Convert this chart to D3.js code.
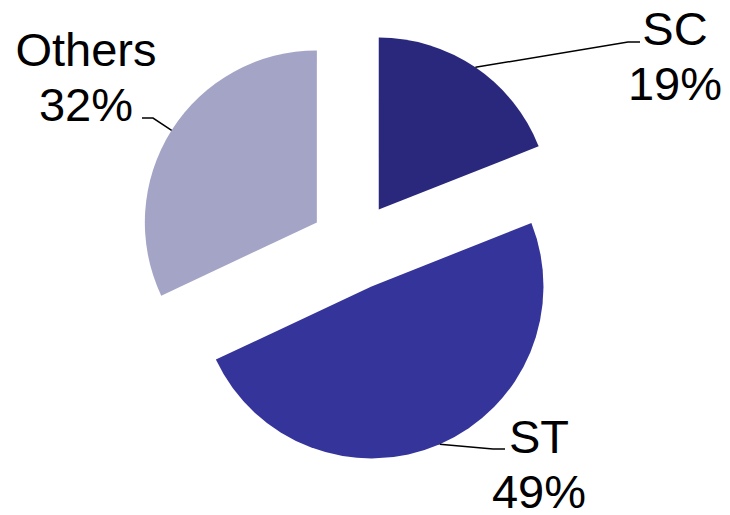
<!DOCTYPE html>
<html>
<head>
<meta charset="utf-8">
<script src="https://cdn.jsdelivr.net/npm/d3@7"></script>
<style>
  html, body { margin: 0; padding: 0; background: #ffffff; }
  svg { display: block; }
</style>
</head>
<body>
<script>
// Share of each group, in percent, clockwise from 12 o'clock
const categories = ["SC", "ST", "Others"];
const shares = [19, 49, 32];
const colors = ["#29287c", "#35349a", "#a4a4c6"];

const width = 730, height = 515;
const cx = 354, cy = 246;
const radius = 172;
const explode = 44;

// Label placement: text centre / first baseline, and the leader-line elbow and end
const labelLayout = [
  { tx: 675, ty: 45,  elbow: [628, 42],  end: [640, 42] },
  { tx: 539, ty: 453, elbow: [493, 449], end: [505, 449] },
  { tx: 86,  ty: 66,  elbow: [153, 118], end: [142, 118] }
];

const svg = d3.select("body").append("svg")
  .attr("width", width)
  .attr("height", height);

const pie = d3.pie().sort(null).value(d => d.value).startAngle(0).endAngle(2 * Math.PI);
const data = pie(categories.map((c, i) => ({ name: c, value: shares[i], color: colors[i] })));
const arc = d3.arc().innerRadius(0).outerRadius(radius);

// Offset of each slice along its bisector
function shift(d) {
  const a = (d.startAngle + d.endAngle) / 2;
  return [cx + explode * Math.sin(a), cy - explode * Math.cos(a)];
}

const g = svg.append("g");

g.selectAll("path.slice")
  .data(data)
  .join("path")
  .attr("class", "slice")
  .attr("d", arc)
  .attr("transform", d => `translate(${shift(d)})`)
  .attr("fill", d => d.data.color);

// Leader lines from the middle of each slice's rim to its label
data.forEach((d, i) => {
  const [sx, sy] = shift(d);
  const a = (d.startAngle + d.endAngle) / 2;
  const p0 = [sx + radius * Math.sin(a), sy - radius * Math.cos(a)];
  const L = labelLayout[i];
  svg.append("path")
    .attr("d", d3.line()([p0, L.elbow, L.end]))
    .attr("fill", "none")
    .attr("stroke", "#000")
    .attr("stroke-width", 1.5);

  const t = svg.append("text")
    .attr("x", L.tx)
    .attr("y", L.ty)
    .attr("text-anchor", "middle")
    .attr("font-family", "Liberation Sans, Arial, sans-serif")
    .attr("font-size", 47)
    .attr("fill", "#000");
  t.append("tspan").attr("x", L.tx).text(d.data.name);
  t.append("tspan").attr("x", L.tx).attr("dy", 55).text(d3.format(".0f")(d.data.value) + "%");
});
</script>
</body>
</html>
